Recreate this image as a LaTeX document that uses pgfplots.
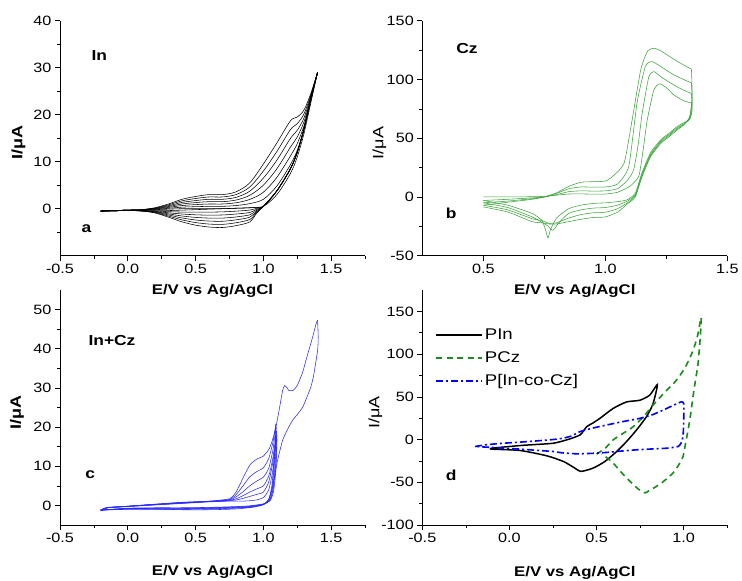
\documentclass[border=0pt]{standalone}
\usepackage{fontspec}
\setmainfont[FakeStretch=1.2]{Liberation Sans}
\usepackage{pgfplots}
\pgfplotsset{compat=1.18}
\definecolor{cvgreen}{RGB}{60,165,60}
\definecolor{dgreen}{RGB}{25,140,25}
\definecolor{cvblue}{RGB}{40,40,255}
\pgfplotsset{
  cv/.style={scale only axis, width=305pt, height=235pt, anchor=north west,
    axis lines*=left, tick align=outside, major tick length=5pt, minor tick length=3pt,
    every tick/.style={black, line width=0.6pt}, axis line style={black, line width=0.8pt},
    tick label style={font=\fontsize{13.5}{14}\selectfont},
    xlabel={E/V vs Ag/AgCl}, ylabel={I/μA},
    xlabel style={font=\bfseries\fontsize{14}{14}\selectfont, anchor=base},
  },
  thin/.style={line width=0.55pt, smooth, tension=0.5},
}
\begin{document}
\begin{tikzpicture}
\useasboundingbox (0,0) rectangle (742pt,-581pt);
% ---------------- panel a ----------------
\begin{axis}[cv, at={(60pt,-20.7pt)},
  xmin=-0.5, xmax=1.75, ymin=-10, ymax=40,
  xtick={-0.5,0,0.5,1,1.5}, xticklabels={-0.5,0.0,0.5,1.0,1.5},
  minor xtick={-0.25,0.25,0.75,1.25,1.75},
  ytick={0,10,20,30,40}, yticklabels={0,10,20,30,40}, minor ytick={-5,5,15,25,35},
  xlabel style={at={(axis description cs:0.5,-0.166)}},
  ylabel style={font=\bfseries\fontsize{15}{15}\selectfont, at={(axis description cs:-0.136,0.48)}, anchor=center}]
\addplot[black, thin] coordinates {(-0.2,-0.5) (0.0,-0.3) (0.1,-0.3) (0.2,-0.2) (0.3,-0.1) (0.4,0) (0.5,0) (0.6,0) (0.7,0) (0.8,0.1) (0.9,0.2) (1.0,0.5) (1.1,3.0) (1.2,7.5) (1.25,11) (1.3,16) (1.35,22.5) (1.4,29)};
\addplot[black, thin] coordinates {(-0.2,-0.5) (0.0,-0.3) (0.1,-0.28) (0.2,-0.13) (0.3,0.08) (0.4,0.33) (0.5,0.43) (0.6,0.5) (0.7,0.5) (0.8,0.68) (0.9,1.08) (1.0,2.0) (1.1,4.83) (1.2,9.37) (1.25,12.42) (1.3,16.83) (1.35,22.83) (1.4,29)};
\addplot[black, thin] coordinates {(-0.2,-0.5) (0.0,-0.3) (0.1,-0.27) (0.2,-0.07) (0.3,0.27) (0.4,0.67) (0.5,0.87) (0.6,1.0) (0.7,1.0) (0.8,1.27) (0.9,1.97) (1.0,3.5) (1.1,6.67) (1.2,11.23) (1.25,13.83) (1.3,17.67) (1.35,23.17) (1.4,29)};
\addplot[black, thin] coordinates {(-0.2,-0.5) (0.0,-0.3) (0.1,-0.25) (0.2,0) (0.3,0.45) (0.4,1.0) (0.5,1.3) (0.6,1.5) (0.7,1.5) (0.8,1.85) (0.9,2.85) (1.0,5.0) (1.1,8.5) (1.2,13.1) (1.25,15.25) (1.3,18.5) (1.35,23.5) (1.4,29)};
\addplot[black, thin] coordinates {(-0.2,-0.5) (0.0,-0.3) (0.1,-0.23) (0.2,0.07) (0.3,0.63) (0.4,1.33) (0.5,1.73) (0.6,2.0) (0.7,2.0) (0.8,2.43) (0.9,3.73) (1.0,6.5) (1.1,10.33) (1.2,14.97) (1.25,16.67) (1.3,19.33) (1.35,23.83) (1.4,29)};
\addplot[black, thin] coordinates {(-0.2,-0.5) (0.0,-0.3) (0.1,-0.22) (0.2,0.13) (0.3,0.82) (0.4,1.67) (0.5,2.17) (0.6,2.5) (0.7,2.5) (0.8,3.02) (0.9,4.62) (1.0,8.0) (1.1,12.17) (1.2,16.83) (1.25,18.08) (1.3,20.17) (1.35,24.17) (1.4,29)};
\addplot[black, thin] coordinates {(-0.2,-0.5) (0.0,-0.3) (0.1,-0.2) (0.2,0.2) (0.3,1.0) (0.4,2.0) (0.5,2.6) (0.6,3.0) (0.7,3.0) (0.8,3.6) (0.9,5.5) (1.0,9.5) (1.1,14.0) (1.2,18.7) (1.25,19.5) (1.3,21) (1.35,24.5) (1.4,29)};
% reverse scans
\addplot[black, thin] coordinates {(1.4,29) (1.35,23.5) (1.3,17) (1.25,12) (1.2,8.5) (1.1,3.8) (1.0,0.5) (0.95,0.3) (0.9,0.2) (0.8,0.1) (0.7,0.0) (0.6,-0.1) (0.5,-0.2) (0.4,-0.3) (0.3,-0.4) (0.2,-0.4) (0.1,-0.4) (0.0,-0.4) (-0.2,-0.5)};
\addplot[black, thin] coordinates {(1.4,29) (1.35,23.5) (1.3,17) (1.25,12) (1.2,8.5) (1.1,3.8) (1.0,0.5) (0.95,0.08) (0.9,-0.3) (0.8,-0.52) (0.7,-0.67) (0.6,-0.73) (0.5,-0.75) (0.4,-0.72) (0.3,-0.63) (0.2,-0.48) (0.1,-0.42) (0.0,-0.4) (-0.2,-0.5)};
\addplot[black, thin] coordinates {(1.4,29) (1.35,23.5) (1.3,17) (1.25,12) (1.2,8.5) (1.1,3.8) (1.0,0.5) (0.95,-0.13) (0.9,-0.8) (0.8,-1.13) (0.7,-1.33) (0.6,-1.37) (0.5,-1.3) (0.4,-1.13) (0.3,-0.87) (0.2,-0.57) (0.1,-0.43) (0.0,-0.4) (-0.2,-0.5)};
\addplot[black, thin] coordinates {(1.4,29) (1.35,23.5) (1.3,17) (1.25,12) (1.2,8.5) (1.1,3.8) (1.0,0.5) (0.95,-0.35) (0.9,-1.3) (0.8,-1.75) (0.7,-2.0) (0.6,-2.0) (0.5,-1.85) (0.4,-1.55) (0.3,-1.1) (0.2,-0.65) (0.1,-0.45) (0.0,-0.4) (-0.2,-0.5)};
\addplot[black, thin] coordinates {(1.4,29) (1.35,23.5) (1.3,17) (1.25,12) (1.2,8.5) (1.1,3.8) (1.0,0.5) (0.95,-0.57) (0.9,-1.8) (0.8,-2.37) (0.7,-2.67) (0.6,-2.63) (0.5,-2.4) (0.4,-1.97) (0.3,-1.33) (0.2,-0.73) (0.1,-0.47) (0.0,-0.4) (-0.2,-0.5)};
\addplot[black, thin] coordinates {(1.4,29) (1.35,23.5) (1.3,17) (1.25,12) (1.2,8.5) (1.1,3.8) (1.0,0.5) (0.95,-0.78) (0.9,-2.3) (0.8,-2.98) (0.7,-3.33) (0.6,-3.27) (0.5,-2.95) (0.4,-2.38) (0.3,-1.57) (0.2,-0.82) (0.1,-0.48) (0.0,-0.4) (-0.2,-0.5)};
\addplot[black, thin] coordinates {(1.4,29) (1.35,23.5) (1.3,17) (1.25,12) (1.2,8.5) (1.1,3.8) (1.0,0.5) (0.95,-1.0) (0.9,-2.8) (0.8,-3.6) (0.7,-4.0) (0.6,-3.9) (0.5,-3.5) (0.4,-2.8) (0.3,-1.8) (0.2,-0.9) (0.1,-0.5) (0.0,-0.4) (-0.2,-0.5)};
\node[anchor=west, font=\bfseries\fontsize{14.5}{14.5}\selectfont] at (rel axis cs:0.092,0.85) {In};
\node[anchor=west, font=\bfseries\fontsize{14.5}{14.5}\selectfont] at (rel axis cs:0.059,0.115) {a};
\end{axis}
% ---------------- panel b ----------------
\begin{axis}[cv, at={(422.3pt,-20.7pt)},
  xmin=0.25, xmax=1.5, ymin=-50, ymax=150,
  xtick={0.5,1,1.5}, xticklabels={0.5,1.0,1.5}, minor xtick={0.75,1.25},
  ytick={-50,0,50,100,150}, yticklabels={-50,0,50,100,150}, minor ytick={-25,25,75,125},
  xlabel style={at={(axis description cs:0.5,-0.166)}},
  ylabel style={font=\fontsize{15}{15}\selectfont, at={(axis description cs:-0.141,0.48)}, anchor=center}]
\addplot[cvgreen, thin, tension=0.35] coordinates {(0.5,0) (0.6,0) (0.7,0.2) (0.75,0.5) (0.8,1.5) (0.85,2.5) (0.9,2.6) (0.95,2.4) (1.0,2.5) (1.05,4) (1.1,9) (1.137,17.5) (1.155,40) (1.172,65.6) (1.199,91) (1.222,96.3) (1.25,93) (1.28,87) (1.32,82) (1.353,80)};
\addplot[cvgreen, thin, tension=0.35] coordinates {(1.353,80) (1.355,72) (1.345,66) (1.32,63) (1.295,60) (1.26,54) (1.227,48.6) (1.185,37.5) (1.15,20.3) (1.123,3.3) (1.09,-2.4) (1.05,-4) (1.0,-5) (0.95,-5.5) (0.9,-7) (0.85,-10) (0.8,-18) (0.775,-28) (0.765,-35) (0.755,-28) (0.74,-20) (0.7,-14) (0.6,-7) (0.5,-3)};
\addplot[cvgreen, thin, tension=0.35] coordinates {(0.5,-3) (0.6,-2) (0.7,-0.8) (0.75,0) (0.8,2) (0.85,4.5) (0.9,5.2) (0.95,5) (1.0,5.2) (1.05,7) (1.09,14) (1.116,23) (1.135,45) (1.151,71) (1.178,102) (1.199,106.7) (1.23,102) (1.267,97) (1.31,92) (1.353,88)};
\addplot[cvgreen, thin, tension=0.35] coordinates {(1.353,88) (1.356,75) (1.345,66) (1.32,62) (1.295,59) (1.26,53) (1.227,47.5) (1.185,36) (1.15,19) (1.123,2) (1.09,-3.5) (1.05,-7) (1.0,-9) (0.95,-9.5) (0.9,-11) (0.85,-14) (0.81,-22) (0.785,-28.4) (0.76,-24) (0.7,-17) (0.6,-9) (0.5,-5)};
\addplot[cvgreen, thin, tension=0.35] coordinates {(0.5,-5) (0.6,-3.5) (0.7,-1.5) (0.75,0) (0.8,3) (0.85,7) (0.9,8.5) (0.95,8.3) (1.0,8.5) (1.05,11) (1.096,26) (1.13,80) (1.164,111) (1.19,115.2) (1.22,112) (1.28,104) (1.353,97)};
\addplot[cvgreen, thin, tension=0.35] coordinates {(1.353,97) (1.356,80) (1.345,67) (1.32,61.5) (1.295,58) (1.26,52) (1.227,46.5) (1.185,35) (1.15,18) (1.123,1) (1.09,-5) (1.05,-10) (1.0,-13) (0.95,-13.5) (0.9,-15) (0.85,-18) (0.8,-22) (0.77,-22.5) (0.74,-20) (0.7,-18.5) (0.6,-11) (0.5,-7)};
\addplot[cvgreen, thin, tension=0.35] coordinates {(0.5,-7) (0.6,-4.5) (0.7,-2) (0.75,0) (0.8,3.5) (0.85,9) (0.9,12.5) (0.95,13) (1.0,13.5) (1.03,17.5) (1.077,28.8) (1.11,65.6) (1.145,108) (1.172,123.7) (1.199,126.6) (1.23,124) (1.29,116) (1.353,108.7)};
\addplot[cvgreen, thin, tension=0.35] coordinates {(1.353,108.7) (1.356,85) (1.345,68) (1.32,61) (1.295,57) (1.26,51) (1.227,45.5) (1.185,34) (1.15,17) (1.123,0) (1.09,-6) (1.05,-13) (1.0,-17) (0.95,-17.5) (0.9,-19) (0.85,-21) (0.8,-23) (0.77,-23) (0.74,-22) (0.7,-21) (0.6,-12.8) (0.5,-8.5)};
\node[anchor=west, font=\bfseries\fontsize{14.5}{14.5}\selectfont] at (rel axis cs:0.10,0.88) {Cz};
\node[anchor=west, font=\bfseries\fontsize{14.5}{14.5}\selectfont] at (rel axis cs:0.066,0.18) {b};
\end{axis}
% ---------------- panel c ----------------
\begin{axis}[cv, at={(60pt,-290pt)},
  xmin=-0.5, xmax=1.75, ymin=-5, ymax=55,
  xtick={-0.5,0,0.5,1,1.5}, xticklabels={-0.5,0.0,0.5,1.0,1.5},
  minor xtick={-0.25,0.25,0.75,1.25,1.75},
  ytick={0,10,20,30,40,50}, yticklabels={0,10,20,30,40,50}, minor ytick={5,15,25,35,45},
  xlabel style={at={(axis description cs:0.5,-0.217)}},
  ylabel style={font=\bfseries\fontsize{15}{15}\selectfont, at={(axis description cs:-0.141,0.477)}, anchor=center}]
\addplot[cvblue, thin, tension=0.35] coordinates {(-0.2,-1.2) (-0.15,-0.6) (0,-0.3) (0.2,0.1) (0.4,0.5) (0.6,0.9) (0.75,1.1) (0.8,1.1) (0.85,1.1) (0.9,1.2) (0.95,1.4) (1.0,2.0) (1.04,4) (1.07,9) (1.09,15) (1.1,17)};
\addplot[cvblue, thin, tension=0.35] coordinates {(1.1,17) (1.098,13) (1.09,8) (1.075,3.5) (1.05,1.2) (1.0,0.4) (0.9,-0.1) (0.8,-0.3) (0.6,-0.5) (0.4,-0.6) (0.2,-0.6) (0,-0.7) (-0.2,-1.2)};
\addplot[cvblue, thin, tension=0.35] coordinates {(-0.2,-1.2) (-0.15,-0.6) (0,-0.25) (0.2,0.2) (0.4,0.6) (0.6,1.0) (0.75,1.2) (0.8,1.4) (0.85,1.8) (0.9,2.3) (0.95,2.8) (1.0,3.4) (1.04,6) (1.07,11) (1.09,16) (1.1,18)};
\addplot[cvblue, thin, tension=0.35] coordinates {(1.1,18) (1.097,14) (1.088,9) (1.072,4) (1.05,1.5) (1.0,0.3) (0.9,-0.2) (0.8,-0.4) (0.6,-0.6) (0.4,-0.7) (0.2,-0.7) (0,-0.8) (-0.2,-1.2)};
\addplot[cvblue, thin, tension=0.35] coordinates {(-0.2,-1.2) (-0.15,-0.6) (0,-0.25) (0.2,0.2) (0.4,0.6) (0.6,1.0) (0.75,1.3) (0.8,1.7) (0.85,2.5) (0.9,3.4) (0.95,4.2) (1.0,5) (1.04,7.5) (1.07,12) (1.09,17) (1.097,19)};
\addplot[cvblue, thin, tension=0.35] coordinates {(1.097,19) (1.093,14) (1.083,9) (1.068,4) (1.045,1.4) (1.0,0.2) (0.9,-0.3) (0.8,-0.5) (0.6,-0.7) (0.4,-0.8) (0.2,-0.8) (0,-0.8) (-0.2,-1.2)};
\addplot[cvblue, thin, tension=0.35] coordinates {(-0.2,-1.2) (-0.15,-0.6) (0,-0.2) (0.2,0.25) (0.4,0.7) (0.6,1.0) (0.75,1.4) (0.8,2.2) (0.85,3.5) (0.9,5.0) (0.95,6.2) (1.0,7.2) (1.04,9.5) (1.07,14) (1.09,19) (1.095,20)};
\addplot[cvblue, thin, tension=0.35] coordinates {(1.095,20) (1.09,15) (1.08,10) (1.065,4.5) (1.04,1.5) (1.0,0.3) (0.9,-0.4) (0.8,-0.6) (0.6,-0.8) (0.4,-0.9) (0.2,-0.9) (0,-0.9) (-0.2,-1.2)};
\addplot[cvblue, thin, tension=0.35] coordinates {(-0.2,-1.2) (-0.15,-0.55) (0,-0.2) (0.2,0.3) (0.4,0.75) (0.6,1.05) (0.75,1.5) (0.8,2.8) (0.85,5) (0.9,7.3) (0.95,8.6) (1.0,9.6) (1.04,12) (1.07,16) (1.093,20.8)};
\addplot[cvblue, thin, tension=0.35] coordinates {(1.093,20.8) (1.088,16) (1.078,11) (1.063,5) (1.04,1.6) (1.0,0.2) (0.9,-0.5) (0.8,-0.7) (0.6,-0.9) (0.4,-1.0) (0.2,-1.0) (0,-1.0) (-0.2,-1.2)};
\addplot[cvblue, thin, tension=0.35] coordinates {(-0.2,-1.2) (-0.15,-0.5) (0,-0.2) (0.2,0.3) (0.4,0.8) (0.6,1.1) (0.75,1.7) (0.8,3.5) (0.85,7.0) (0.9,10.3) (0.95,11.8) (1.0,12.6) (1.044,14.5) (1.07,17) (1.093,20) (1.12,25) (1.142,29.3) (1.157,30.6) (1.175,30) (1.19,29.3) (1.22,29.4) (1.25,30.6) (1.29,34) (1.314,37) (1.363,42.9) (1.39,46.5) (1.4,47.3)};
\addplot[cvblue, thin, tension=0.35] coordinates {(1.4,47.3) (1.405,43) (1.4,39.5) (1.37,33) (1.35,30.2) (1.32,27.5) (1.289,25) (1.25,23.2) (1.215,21.7) (1.18,19.5) (1.142,16.6) (1.105,11.5) (1.068,4.7) (1.03,0.8) (0.95,-0.3) (0.8,-0.9) (0.6,-1.1) (0.4,-1.1) (0.2,-0.9) (0.0,-0.8) (-0.2,-1.2)};
\node[anchor=west, font=\bfseries\fontsize{14.5}{14.5}\selectfont] at (rel axis cs:0.082,0.787) {In+Cz};
\node[anchor=west, font=\bfseries\fontsize{14.5}{14.5}\selectfont] at (rel axis cs:0.072,0.213) {c};
\end{axis}
% ---------------- panel d ----------------
\begin{axis}[cv, at={(422.3pt,-290pt)},
  xmin=-0.5, xmax=1.25, ymin=-100, ymax=175,
  xtick={-0.5,0,0.5,1}, xticklabels={-0.5,0.0,0.5,1.0},
  minor xtick={-0.25,0.25,0.75,1.25},
  ytick={-100,-50,0,50,100,150}, yticklabels={-100,-50,0,50,100,150}, minor ytick={-75,-25,25,75,125},
  xlabel style={at={(axis description cs:0.5,-0.217)}},
  ylabel style={font=\fontsize{15}{15}\selectfont, at={(axis description cs:-0.154,0.48)}, anchor=center},
  legend style={at={(rel axis cs:0.042,0.843)}, anchor=north west, draw=none, fill=none,
    font=\fontsize{15.5}{16}\selectfont, row sep=6.5pt, inner sep=0pt},
  legend cell align=left,
  legend image code/.code={\draw[#1] (0pt,0pt) -- (46pt,0pt);}]
\addplot[black, line width=1.5pt, smooth, tension=0.4] coordinates {(-0.1,-10) (0.061,-7) (0.15,-5.8) (0.252,-4.3) (0.328,-0.4) (0.405,5.4) (0.443,15) (0.48,19.5) (0.519,24.8) (0.595,36.4) (0.672,44) (0.748,46) (0.805,52) (0.849,64.3) (0.824,42) (0.786,26.7) (0.729,11.2) (0.672,-2.3) (0.615,-14) (0.548,-25.6) (0.481,-33.3) (0.41,-37.2) (0.366,-32.2) (0.309,-25.6) (0.214,-19) (0.061,-12.8) (-0.101,-11.2) (-0.1,-10)};
\addlegendentry{PIn}
\addplot[dgreen, line width=1.6pt, dash pattern=on 6pt off 4.5pt, smooth, tension=0.4] coordinates {(0.5,-17) (0.55,-10) (0.595,-0.4) (0.65,7) (0.71,15) (0.77,27) (0.824,40.3) (0.89,55) (0.958,69.4) (1.01,85) (1.053,104) (1.08,122) (1.1,143) (1.095,120) (1.082,88.8) (1.068,70) (1.053,50) (1.04,30) (1.025,11.2) (1.01,-5) (0.996,-19.8) (0.97,-30) (0.939,-39) (0.89,-48) (0.844,-54.7) (0.8,-60) (0.777,-62.4) (0.74,-58) (0.691,-48.8) (0.64,-38) (0.595,-27.5) (0.545,-19) (0.53,-17)};
\addlegendentry{PCz}
\addplot[blue, line width=1.6pt, dash pattern=on 7pt off 3pt on 2pt off 3pt, smooth, tension=0.3] coordinates {(-0.197,-8.1) (-0.13,-6) (-0.034,-4.3) (0.061,-3) (0.156,-1.6) (0.25,0) (0.309,1.6) (0.36,4.5) (0.405,9.3) (0.48,13.5) (0.557,17) (0.65,21) (0.748,24.8) (0.82,29) (0.882,34.5) (0.94,40) (0.987,44.2) (1.0,42) (1.0,22.9) (0.996,3.5) (0.985,-4) (0.968,-8.1) (0.91,-10) (0.82,-11) (0.729,-12) (0.64,-13.5) (0.557,-15.1) (0.47,-16.2) (0.385,-16.7) (0.3,-15.5) (0.252,-14) (0.15,-12.5) (0.061,-11.2) (-0.04,-10) (-0.13,-8.9) (-0.197,-8.1)};
\addlegendentry{P[In-co-Cz]}
\node[anchor=west, font=\bfseries\fontsize{14.5}{14.5}\selectfont] at (rel axis cs:0.066,0.21) {d};
\end{axis}
\end{tikzpicture}
\end{document}
